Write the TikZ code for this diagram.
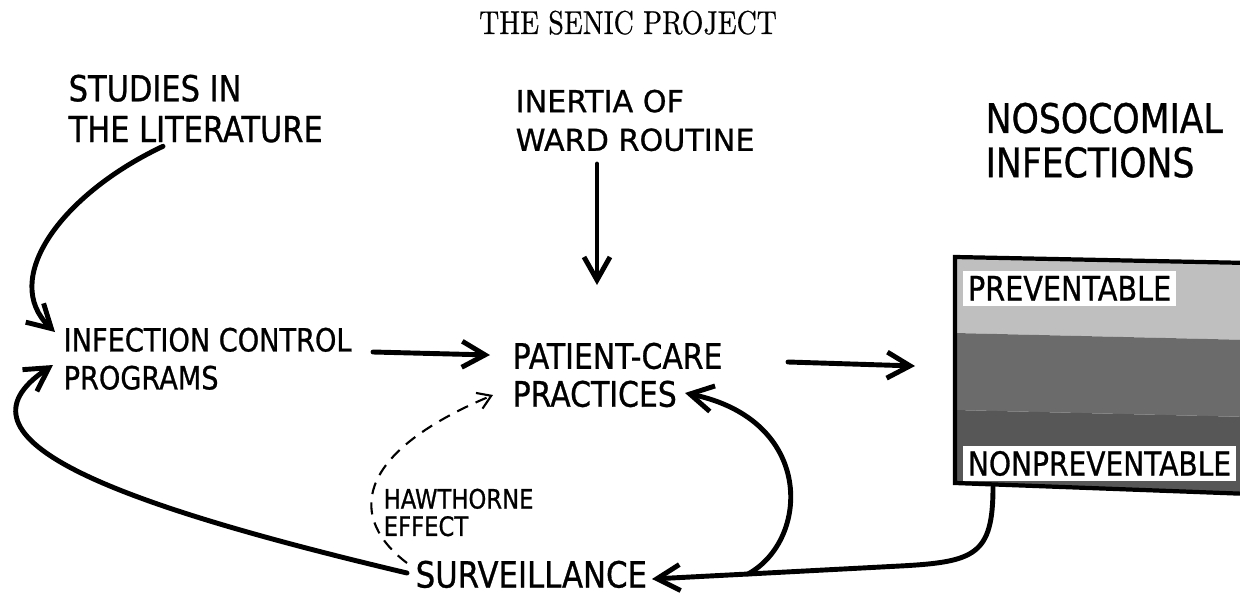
\documentclass[tikz,border=0pt]{standalone}
\usepackage{fontspec}
\usetikzlibrary{arrows.meta}

\newfontfamily\letterfont[FakeBold=0.8]{DejaVu Sans}
\newfontfamily\narrowfont[FakeStretch=0.85, FakeBold=0.8]{DejaVu Sans}
\newfontfamily\titlefont[FakeStretch=0.82, FakeBold=0.6]{Latin Modern Roman}

\tikzset{
	lbl/.style={anchor=north west, inner sep=0pt, align=left},
	tag/.style={anchor=north west, fill=white, inner sep=1.5pt},
	flow/.style={line width=1.4pt, line cap=round, -{Straight Barb[length=2.3mm,width=2.6mm]}},
	hunch/.style={line width=0.6pt, dash pattern=on 3.4pt off 2.4pt, -{Straight Barb[length=1.3mm,width=1.7mm]}}
}

\begin{document}
\begin{tikzpicture}[x=0.1mm, y=-0.1mm]
	\useasboundingbox (0,0) rectangle (1240,594);
	\node(title) [inner sep=0pt, anchor=north] at (628,10) {\titlefont\fontsize{9.4}{11}\selectfont THE SENIC PROJECT};
	% the labels
	\node(studies) [lbl, font={\narrowfont\fontsize{10.2}{11.6}\selectfont}] at (68,74) {STUDIES IN\\THE LITERATURE};
	\node(inertia) [lbl, font={\letterfont\fontsize{8.6}{11}\selectfont}] at (515,89) {INERTIA OF\\WARD ROUTINE};
	\node(noso) [lbl, font={\narrowfont\fontsize{11.6}{12.6}\selectfont}] at (985,102) {NOSOCOMIAL\\INFECTIONS};
	\node(infection) [lbl, font={\narrowfont\fontsize{9.1}{10.8}\selectfont}] at (63,327) {INFECTION CONTROL\\PROGRAMS};
	\node(patient) [lbl, font={\narrowfont\fontsize{10}{10.8}\selectfont}] at (512,342) {PATIENT-CARE\\PRACTICES};
	\node(surveillance) [lbl, font={\narrowfont\fontsize{10.3}{12}\selectfont}] at (415,560) {SURVEILLANCE};
	\node(hawthorne) [lbl, font={\narrowfont\fontsize{7.6}{7.8}\selectfont}] at (383,488) {HAWTHORNE\\EFFECT};
	% the box of infections
	\coordinate(boxnw) at (955,257);
	\coordinate(boxne) at (1250,263);
	\coordinate(boxse) at (1250,494);
	\coordinate(boxsw) at (955,483);
	\coordinate(boxw) at (955,370);
	\coordinate(boxs) at (993,487);
	\begin{scope}
		\clip (0,0) rectangle (1240,594);
		\fill[black!25] (boxnw) -- (boxne) -- (1250,340) -- (955,333) -- cycle;
		\fill[black!58] (955,333) -- (1250,340) -- (1250,417) -- (955,410) -- cycle;
		\fill[black!66] (955,410) -- (1250,417) -- (boxse) -- (boxsw) -- cycle;
		\draw[line width=1.2pt] (boxne) -- (boxnw) -- (boxsw) -- (boxse);
	\end{scope}
	\node(prev) [tag, font={\narrowfont\fontsize{9.6}{11}\selectfont}] at (962,270) {PREVENTABLE};
	\node(nonprev) [tag, font={\narrowfont\fontsize{9.4}{11}\selectfont}] at (962,445) {NONPREVENTABLE};
	% the arrows
	\coordinate(merge) at (748,574);
	\draw[flow] ([shift={(95,3)}]studies.south west) .. controls (60,195) and (0,280) .. ([shift={(-8,5)}]infection.north west);
	\draw[flow] ([shift={(310,25)}]infection.north west) -- ([shift={(-22,13)}]patient.north west);
	\draw[flow] ([shift={(82,75)}]inertia.north west) -- ([shift={(85,-57)}]patient.north west);
	\draw[flow] ([shift={(276,20)}]patient.north west) -- ([shift={(-40,-4)}]boxw);
	\draw[flow] (boxs) .. controls (993,555) and (975,562) .. (900,566) -- (merge) -- ([shift={(237,19)}]surveillance.north west);
	\draw[flow] (merge) .. controls (810,540) and (815,420) .. ([shift={(173,51)}]patient.north west);
	\draw[flow] ([shift={(-8,13)}]surveillance.north west) .. controls (120,505) and (-60,440) .. ([shift={(-10,38)}]infection.north west);
	\draw[hunch] ([shift={(-8,3)}]surveillance.north west) .. controls (350,520) and (350,455) .. ([shift={(-19,53)}]patient.north west);
\end{tikzpicture}
\end{document}
